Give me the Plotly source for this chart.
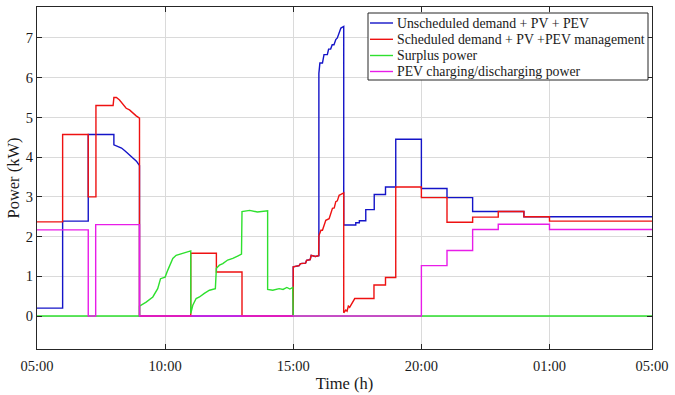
import plotly.graph_objects as go

# ---------------- data (hours from 05:00 = 5 to next-day 05:00 = 29) ----------------
unsched_t = [5, 6, 6, 7, 7, 8, 8, 8.13, 8.3, 8.45, 8.6, 8.75, 8.88, 9, 9, 15, 15, 15.23, 15.28,
             15.48, 15.52, 15.66, 15.7, 15.86, 16, 16, 16.04, 16.14, 16.2, 16.33, 16.38, 16.46,
             16.52, 16.59, 16.66, 16.72, 16.79, 16.86, 16.97, 16.97, 17.44, 17.44, 17.58, 17.58,
             17.83, 17.83, 18.16, 18.16, 18.6, 18.6, 19, 19, 20, 20, 21, 21, 22, 22, 24, 24, 29]
unsched_p = [0.2, 0.2, 2.39, 2.39, 4.57, 4.57, 4.31, 4.27, 4.23, 4.15, 4.06, 3.98, 3.9, 3.79, 0, 0, 1.24, 1.27, 1.32,
             1.33, 1.40, 1.42, 1.53, 1.50, 1.52, 6.11, 6.37, 6.37, 6.58, 6.58, 6.72, 6.72,
             6.83, 6.83, 6.96, 7.0, 7.12, 7.25, 7.29, 2.29, 2.29, 2.35, 2.35, 2.40,
             2.40, 2.68, 2.68, 3.06, 3.06, 3.25, 3.25, 4.45, 4.45, 3.21, 3.21, 2.98, 2.98, 2.63, 2.63, 2.50, 2.50]

sched_t = [5, 6, 6, 7, 7, 7.3, 7.3, 7.97, 8.0, 8.1, 8.22, 8.35, 8.48, 8.61, 8.74, 8.87, 9, 9,
           11, 11, 12, 12, 13, 13, 15, 15, 15.23, 15.28, 15.48, 15.52, 15.66, 15.7, 15.86, 15.99,
           16, 16.08, 16.14, 16.27, 16.4, 16.45, 16.53, 16.6, 16.66, 16.72, 16.79, 16.86, 16.97,
           16.97, 17.05, 17.1, 17.15, 17.2, 17.3, 17.4, 18.15, 18.15, 18.6, 18.6, 19, 19,
           20, 20, 21, 21, 22, 22, 23, 23, 24, 24, 25, 25, 29]
sched_p = [2.37, 2.37, 4.57, 4.57, 3.0, 3.0, 5.3, 5.3, 5.5, 5.5, 5.44, 5.32, 5.23, 5.19, 5.11, 5.04, 4.98, 0,
           0, 1.58, 1.58, 1.11, 1.11, 0, 0, 1.24, 1.27, 1.32, 1.33, 1.40, 1.42, 1.53, 1.50, 1.52,
           2.02, 2.16, 2.16, 2.41, 2.45, 2.54, 2.71, 2.72, 2.88, 2.90, 3.04, 3.06, 3.10,
           0.08, 0.15, 0.12, 0.25, 0.22, 0.35, 0.44, 0.44, 0.78, 0.78, 0.97, 0.97, 3.25,
           3.25, 2.98, 2.98, 2.36, 2.36, 2.49, 2.49, 2.63, 2.63, 2.50, 2.50, 2.39, 2.39]

surplus_t = [5, 9, 9, 9.26, 9.52, 9.71, 9.82, 10.0, 10.1, 10.3, 10.43, 10.62, 10.82, 11, 11,
             11.08, 11.21, 11.34, 11.53, 11.73, 11.96, 12, 12.12, 12.25, 12.44, 12.64, 12.83, 12.98,
             13, 13.3, 13.6, 14, 14, 14.2, 14.45, 14.6, 14.75, 14.87, 14.98, 15, 29]
surplus_p = [0, 0, 0.25, 0.35, 0.48, 0.69, 0.94, 0.98, 1.15, 1.45, 1.53, 1.57, 1.61, 1.64, 0.06,
             0.27, 0.44, 0.48, 0.57, 0.65, 0.69, 1.20, 1.28, 1.32, 1.41, 1.45, 1.51, 1.56,
             2.63, 2.66, 2.62, 2.65, 0.67, 0.65, 0.69, 0.67, 0.72, 0.68, 0.72, 0, 0]

pev_t = [5, 7, 7, 7.29, 7.29, 9, 9, 20, 20, 21, 21, 22, 22, 23, 23, 25, 25, 29]
pev_p = [2.17, 2.17, 0, 0, 2.30, 2.30, 0, 0, 1.27, 1.27, 1.65, 1.65, 2.18, 2.18, 2.31, 2.31, 2.18, 2.18]

tick_vals = [5, 10, 15, 20, 25, 29]
tick_text = ["05:00", "10:00", "15:00", "20:00", "01:00", "05:00"]
series_names = ["Unscheduled demand + PV + PEV",
                "Scheduled demand + PV +PEV management",
                "Surplus power",
                "PEV charging/discharging power"]
series_colors = ["#1414C8", "#EE1111", "#2EE02E", "#E81CE8"]

# ---------------- figure ----------------
FONT = "Liberation Serif"
W, H = 675, 395
ML, MR, MT, MB = 37, 23, 7, 46
PW, PH = W - ML - MR, H - MT - MB


def px_to_paper(px, py):
    return (px - ML) / PW, (H - MB - py) / PH


fig = go.Figure()
for t, p, name, col in zip([unsched_t, sched_t, surplus_t, pev_t],
                           [unsched_p, sched_p, surplus_p, pev_p],
                           series_names, series_colors):
    fig.add_trace(go.Scatter(x=t, y=p, mode="lines", name=name, showlegend=False,
                             line=dict(color=col, width=1.4)))

# legend box drawn as layout shapes/annotations (MATLAB-style compact legend)
shapes, annotations = [], []
bx0, by0 = px_to_paper(368, 13)
bx1, by1 = px_to_paper(648, 80)
shapes.append(dict(type="rect", xref="paper", yref="paper", x0=bx0, y0=by1, x1=bx1, y1=by0,
                   line=dict(color="#262626", width=1), fillcolor="white", layer="above"))
row_y = [23, 39.3, 55.5, 71.5]
for name, col, ry in zip(series_names, series_colors, row_y):
    lx0, ly = px_to_paper(370, ry)
    lx1, _ = px_to_paper(393, ry)
    shapes.append(dict(type="line", xref="paper", yref="paper", x0=lx0, x1=lx1, y0=ly, y1=ly,
                       line=dict(color=col, width=1.4), layer="above"))
    tx, _ = px_to_paper(395, ry)
    annotations.append(dict(text=name, xref="paper", yref="paper", x=tx, y=ly,
                            xanchor="left", yanchor="middle", showarrow=False,
                            font=dict(family=FONT, size=13.8, color="#1a1a1a")))

axis_common = dict(showline=True, linecolor="#262626", linewidth=1, mirror="ticks",
                   ticks="inside", ticklen=5, tickcolor="#262626", automargin=False,
                   showgrid=True, gridcolor="#DADADA", gridwidth=1, zeroline=False,
                   tickfont=dict(family=FONT, size=14.5, color="#1a1a1a"))

fig.update_layout(
    width=W, height=H,
    margin=dict(l=ML, r=MR, t=MT, b=MB),
    paper_bgcolor="white", plot_bgcolor="white",
    font=dict(family=FONT, color="#1a1a1a"),
    xaxis=dict(range=[5, 29], tickvals=tick_vals, ticktext=tick_text, ticklabelstandoff=4,
               title=dict(text="Time (h)", font=dict(family=FONT, size=16.5), standoff=4),
               **axis_common),
    yaxis=dict(range=[-0.83, 7.78], tickvals=list(range(0, 8)),
               title=dict(text="Power (kW)", font=dict(family=FONT, size=16.5), standoff=2),
               **axis_common),
    shapes=shapes,
    annotations=annotations,
    showlegend=False,
)

fig.write_html("out.html", config={"displayModeBar": False},
               post_script="document.body.style.margin='0';")
